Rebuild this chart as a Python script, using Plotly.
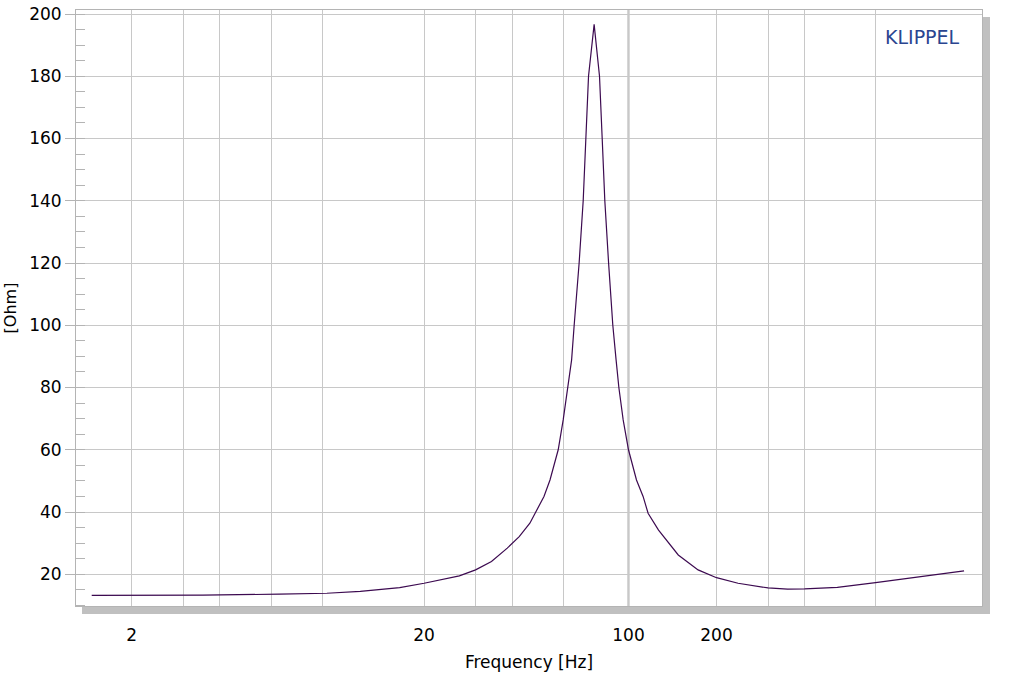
import math
import plotly.graph_objects as go

# ---- data ----
freq_hz = [1.46, 2.0, 3.5, 6.4, 9.3, 12.1, 16.5, 20, 26.4, 30, 34, 38.5, 42.3, 46.0, 47.9,
           51.4, 53.9, 57.5, 59.8, 61.9, 63.9, 65.2, 67.8, 70.0, 71.4, 73.0, 76.3,
           79.6, 81.3, 83.0, 85.5, 88.4, 90.7, 92.7, 95.9, 100, 106.5, 112.2, 116.7,
           126.7, 148, 173, 200, 237, 300, 350, 400, 518, 700, 970, 1405]
impedance_ohm = [13.2, 13.2, 13.3, 13.6, 13.9, 14.5, 15.7, 17.1, 19.5, 21.4, 24.1, 28.4, 32.1, 36.4, 39.6,
                 45.0, 50.3, 60, 69.6, 80, 88.9, 100, 120, 140, 160, 180, 196.7,
                 180, 160, 140, 120, 100, 88.9, 80, 69.6, 60, 50.3, 45.0, 39.6,
                 34.2, 26.2, 21.4, 18.9, 17.1, 15.6, 15.2, 15.3, 15.8, 17.3, 19.0, 21.1]

x_grid_vals = [2, 3, 4, 6, 9, 20, 30, 40, 60, 100, 200, 300, 400, 700]
x_labelled = {2: "2", 20: "20", 100: "100", 200: "200"}
x_emphasis = [100]
x_range_hz = [1.29, 1618]
y_range = [9.8, 201.3]

FONT = "DejaVu Sans"
GRID = "#c8c8c8"
FRAME = "#b4b4b4"
SHADOW = "#c0c0c0"

fig = go.Figure()
fig.add_trace(go.Scatter(x=freq_hz, y=impedance_ohm, mode="lines",
                         line=dict(color="#3c0a50", width=1.2), hoverinfo="skip"))

W, H = 1024, 681
ml, mr, mt, mb = 76, 42, 10, 75
pw, ph = W - ml - mr, H - mt - mb

shapes = []
for v in x_emphasis:
    shapes.append(dict(type="line", xref="x", yref="paper", x0=v, x1=v, y0=0, y1=1,
                       line=dict(color="#b0b0b0", width=2), layer="below"))
# drop shadow right & bottom
shapes.append(dict(type="rect", xref="paper", yref="paper",
                   x0=1 + 1 / pw, x1=1 + 8 / pw, y0=-8 / ph, y1=1 - 7 / ph,
                   fillcolor=SHADOW, line=dict(width=0)))
shapes.append(dict(type="rect", xref="paper", yref="paper",
                   x0=6 / pw, x1=1 + 8 / pw, y0=-8 / ph, y1=-1 / ph,
                   fillcolor=SHADOW, line=dict(width=0)))

fig.update_layout(
    width=W, height=H,
    margin=dict(l=ml, r=mr, t=mt, b=mb, pad=0, autoexpand=False),
    paper_bgcolor="white", plot_bgcolor="white",
    showlegend=False,
    font=dict(family=FONT, size=17, color="black"),
    shapes=shapes,
    xaxis=dict(
        type="log", automargin=False,
        range=[math.log10(x_range_hz[0]), math.log10(x_range_hz[1])],
        tickmode="array",
        tickvals=x_grid_vals,
        ticktext=[x_labelled.get(v, "") for v in x_grid_vals],
        showgrid=True, gridcolor=GRID, gridwidth=1,
        ticks="", ticklabelstandoff=14,
        showline=True, mirror=True, linecolor=FRAME, linewidth=1,
        zeroline=False,
        title=dict(text="Frequency [Hz]", font=dict(size=17), standoff=11),
    ),
    yaxis=dict(
        range=y_range, automargin=False,
        tick0=20, dtick=20,
        showgrid=True, gridcolor=GRID, gridwidth=1,
        ticks="outside", ticklen=10, tickcolor=FRAME, tickwidth=1,
        minor=dict(dtick=5, tick0=0, ticks="inside", ticklen=9, tickcolor=FRAME, showgrid=False),
        showline=True, mirror=True, linecolor=FRAME, linewidth=1,
        zeroline=False,
        title=dict(text="[Ohm]", font=dict(size=16), standoff=8),
    ),
    annotations=[dict(text="KLIPPEL", xref="paper", yref="paper",
                      x=(962 - ml) / pw, y=1 - (37 - mt) / ph,
                      xanchor="right", yanchor="middle", showarrow=False,
                      font=dict(family=FONT, size=19, color="#2a4590"))],
)

fig.write_html("out.html",
               config={"displayModeBar": False},
               post_script="document.body.style.margin='0px';document.body.style.overflow='hidden';")
